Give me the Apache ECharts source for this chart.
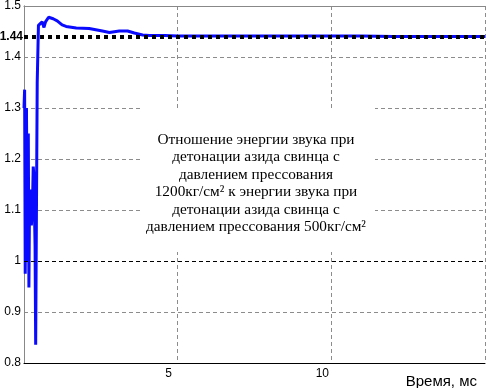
<!DOCTYPE html>
<html>
<head>
<meta charset="utf-8">
<script src="https://cdn.jsdelivr.net/npm/echarts@6/dist/echarts.min.js"></script>
<style>
  html, body { margin: 0; padding: 0; background: #fff; }
  #chart { width: 486px; height: 388px; }
</style>
</head>
<body>
<div id="chart"></div>
<script>
// время, мс
var timeMs = [0, 0.02, 0.04, 0.06, 0.08, 0.10, 0.12, 0.14, 0.16, 0.18, 0.20, 0.22, 0.24, 0.26,
  0.28, 0.30, 0.32, 0.34, 0.36, 0.38, 0.40, 0.43, 0.47, 0.59, 0.65, 0.70, 0.80, 0.95, 1.08,
  1.24, 1.37, 1.70, 2.12, 2.55, 2.78, 3.10, 3.37, 3.59, 3.86, 4.08, 4.58, 5.0, 6, 7, 8, 9,
  10, 11, 12, 13, 14, 15];
// отношение энергий звука
var ratio = [1.30, 1.336, 0.975, 1.22, 1.30, 1.12, 1.00, 1.25, 0.948, 1.12, 1.08, 1.14, 1.07, 1.09,
  1.12, 1.185, 1.17, 1.10, 1.03, 0.836, 1.05, 1.35, 1.462, 1.469, 1.458, 1.469, 1.478, 1.475, 1.471,
  1.463, 1.460, 1.457, 1.456, 1.451, 1.448, 1.451, 1.451, 1.447, 1.443, 1.442, 1.442, 1.441, 1.441, 1.441, 1.441, 1.441,
  1.441, 1.441, 1.440, 1.440, 1.440, 1.440];
var refLevel = 1.44;
var unitLevel = 1;
var noteLines = [
  'Отношение энергии звука при',
  'детонации азида свинца с',
  'давлением прессования',
  '1200кг/см² к энергии звука при',
  'детонации азида свинца с',
  'давлением прессования 500кг/см²'
];

var chart = echarts.init(document.getElementById('chart'));

var points = [];
for (var i = 0; i < timeMs.length; i++) {
  points.push([timeMs[i], ratio[i]]);
}

var gridDash = { color: '#8c8c8c', type: [4, 3], width: 1 };

var option = {
  animation: false,
  grid: { left: 24, right: 1, top: 2, bottom: 25 },
  xAxis: [{
    type: 'value', min: 0, max: 15, interval: 5,
    axisLine: { lineStyle: { color: '#000', width: 1 } },
    axisTick: { show: false },
    axisLabel: {
      color: '#000', fontSize: 12, fontFamily: 'Liberation Sans', margin: 5,
      showMinLabel: false, showMaxLabel: false, padding: [0, 18, 0, 0]
    },
    splitLine: { show: true, lineStyle: gridDash }
  }, {
    // верхняя рамка
    type: 'value', position: 'top', min: 0, max: 15,
    axisLine: { show: true, lineStyle: { color: '#888', width: 1 } },
    axisTick: { show: false }, axisLabel: { show: false }, splitLine: { show: false }
  }],
  yAxis: [{
    type: 'value', min: 0.8, max: 1.5, interval: 0.1,
    axisLine: { show: true, lineStyle: { color: '#888', width: 1 } },
    axisTick: { show: false },
    axisLabel: {
      color: '#000', fontSize: 12, fontFamily: 'Liberation Sans', margin: 3,
      padding: [9, 0, 0, 0],
      formatter: function (v) { return String(Math.round(v * 10) / 10); }
    },
    splitLine: { show: true, lineStyle: gridDash }
  }, {
    // правая рамка
    type: 'value', position: 'right', min: 0.8, max: 1.5,
    axisLine: { show: true, lineStyle: { color: '#888', width: 1 } },
    axisTick: { show: false }, axisLabel: { show: false }, splitLine: { show: false }
  }],
  series: [{
    type: 'line',
    data: points,
    showSymbol: false,
    smooth: false,
    z: 2,
    lineStyle: { color: '#0a0aff', width: 3 },
    markLine: {
      silent: true,
      symbol: 'none',
      z: 5,
      data: [
        {
          yAxis: unitLevel,
          lineStyle: { color: '#000', type: [4, 3], width: 1 },
          label: { show: false }
        },
        {
          yAxis: refLevel,
          lineStyle: { color: '#000', type: [4, 4], width: 4 },
          label: {
            show: true, position: 'start', distance: 1, formatter: '1.44',
            color: '#000', fontSize: 12, fontWeight: 'bold', fontFamily: 'Liberation Sans'
          }
        }
      ]
    }
  }],
  graphic: [
    {
      type: 'rect', z: 10, silent: true,
      shape: { x: 143, y: 108, width: 232, height: 144 },
      style: { fill: '#fff' }
    },
    {
      type: 'text', z: 11, silent: true,
      x: 256, y: 183.5,
      style: {
        text: noteLines.join('\n'),
        fontFamily: 'Liberation Serif', fontSize: 15.3, lineHeight: 17.5,
        fill: '#000', align: 'center', verticalAlign: 'middle'
      }
    },
    {
      type: 'text', z: 11, silent: true,
      right: 9, top: 374,
      style: {
        text: 'Время, мс',
        fontFamily: 'Liberation Sans', fontSize: 15, fill: '#000'
      }
    }
  ]
};

chart.setOption(option);
</script>
</body>
</html>
